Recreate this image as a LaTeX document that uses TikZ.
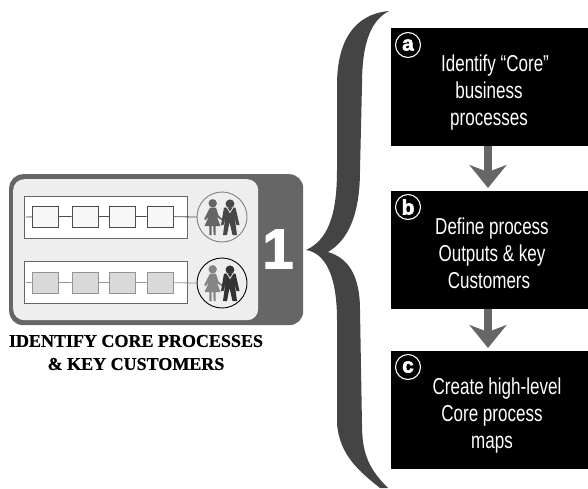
\documentclass[tikz,border=0pt]{standalone}
\usepackage{fontspec}
\setmainfont{Liberation Sans}
\newfontfamily\condfont[FakeStretch=0.74]{Liberation Sans}
\newfontfamily\heavyfont[FakeBold=2.5]{Liberation Sans Bold}
\newfontfamily\headfont[FakeBold=0.6]{Liberation Serif Bold}
\usetikzlibrary{arrows.meta}
\definecolor{panelgray}{HTML}{666666}
\definecolor{panellight}{HTML}{EEEEEE}
\definecolor{bracegray}{HTML}{444444}
\tikzset{
  stepcard/.style={draw=none,fill=black,minimum width=197pt,minimum height=118pt,inner sep=0pt,outer sep=0pt,anchor=north west},
  linetext/.style={text=white,font=\condfont\fontsize{23}{23}\selectfont,inner sep=0pt},
  badge/.style={circle,draw=white,line width=1.1pt,fill=black,text=white,minimum size=25pt,inner sep=0pt,font=\heavyfont\fontsize{21}{21}\selectfont},
  flowarrow/.style={draw=panelgray,line width=8pt,-{Stealth[length=23pt,width=37pt,inset=7pt,fill=panelgray]},shorten >=3pt},
  lanebox/.style={draw=panelgray,line width=.8pt,fill=white,minimum width=163pt,minimum height=42pt,inner sep=0pt,anchor=north west},
  taskbox/.style={line width=.8pt,minimum width=26pt,minimum height=21pt,inner sep=0pt},
  headline/.style={font=\headfont\fontsize{18}{18}\selectfont,inner sep=0pt,text=black},
  pics/couple/.style n args={3}{code={
    \fill[#1] (-9.3,-13.7) circle (4.2);
    \fill[#1] (-12,-9.5) -- (-6,-9.5) -- (-3.5,-1.5) -- (0.5,2) -- (-0.5,3.2) -- (-5,0) -- (-1.5,9) -- (-6.3,9) -- (-6.3,18) -- (-8.4,18) -- (-8.7,9) -- (-10.3,9) -- (-10.5,18) -- (-12.6,18) -- (-12.7,9) -- (-17.5,9) -- (-13,-1) -- (-16.5,3.2) -- (-17.8,2) -- cycle;
    \fill[#2] (8,-13.2) circle (4.4);
    \fill[#2] (2,-9.5) -- (13.5,-9.5) -- (17.5,8) -- (14.5,8) -- (12.5,-1) -- (15,18) -- (10.5,18) -- (7.5,5) -- (5,18) -- (1,18) -- (3.5,-1) -- (1.5,8) -- (-1,8) -- cycle;
    \draw[white,line width=.7pt] (5,-9.5) -- (8,-4.5) -- (11,-9.5);
    \draw[#3,line width=.9pt,fill=none] (0,0) circle (25);
  }}
}
\begin{document}
\begin{tikzpicture}[x=1pt,y=-1pt]
\useasboundingbox (0,0) rectangle (588,488);
% left panel
\node[draw=none,fill=panelgray,rounded corners=14pt,minimum width=294pt,minimum height=151pt,inner sep=0pt,anchor=north west] (panel) at (9,174) {};
\node[draw=none,fill=panellight,rounded corners=11pt,minimum width=245pt,minimum height=141pt,inner sep=0pt,anchor=north west] (inner) at (13,179) {};
\node[lanebox] (laneA) at (24,196) {};
\node[lanebox] (laneB) at (24,261) {};
\coordinate (startA) at (26,217);
\coordinate (startB) at (26,282.5);
\foreach \n/\x in {1/45,2/85,3/122.5,4/160}{
  \node[taskbox,draw=black!70,fill=black!3] (a\n) at (\x,216.5) {};
  \node[taskbox,draw=black!42,fill=black!15] (b\n) at (\x,282.5) {};
}
\pic (cA) at (222,217) {couple={panelgray}{black!72}{black!50}};
\pic (cB) at (222,283) {couple={black!48}{black!80}{black}};
\coordinate (custA) at (197,217);
\coordinate (custB) at (197,283);
\draw[black!70,line width=.8pt] (startA) -- (a1) -- (a2) -- (a3) -- (a4) -- (custA);
\draw[black!42,line width=.8pt] (startB) -- (b1) -- (b2) -- (b3) -- (b4) -- (custB);
\node[text=white,font=\heavyfont\fontsize{56}{56}\selectfont,inner sep=0pt] (one) at (278,249) {1};
\node[headline] (h1) at (136,341) {IDENTIFY CORE PROCESSES};
\node[headline] (h2) at (136,364) {\& KEY CUSTOMERS};
% brace
\fill[bracegray] (389,11) .. controls (355,14) and (337,40) .. (337,85)
  -- (337,170) .. controls (337,215) and (328,240) .. (306,250)
  .. controls (325,253) and (337,275) .. (337,320)
  -- (337,423) .. controls (339,455) and (360,472) .. (380,488)
  -- (388,488) .. controls (370,470) and (362,455) .. (362,425)
  -- (360,310) .. controls (360,275) and (348,258) .. (328,252)
  .. controls (348,240) and (360,215) .. (360,170)
  -- (362,85) .. controls (362,40) and (372,20) .. (389,11) -- cycle;
% cards
\node[stepcard] (A) at (391,28) {};
\node[stepcard] (B) at (391,191) {};
\node[stepcard] (C) at (391,351) {};
\draw[flowarrow] ([xshift=-1.5pt]A.south) -- ([xshift=-1.5pt]B.north);
\draw[flowarrow] ([xshift=-1.5pt]B.south) -- ([xshift=-1.5pt]C.north);
\node[badge] (ba) at (408,45) {a};
\node[badge] (bb) at (408,207) {b};
\node[badge] (bc) at (408,367) {c};
\node[linetext,anchor=base] (a1t) at (495,71) {Identify “Core”};
\node[linetext,anchor=base] (a2t) at (489,98) {business};
\node[linetext,anchor=base] (a3t) at (489,125) {processes};
\node[linetext,anchor=base] (b1t) at (492,234) {Define process};
\node[linetext,anchor=base] (b2t) at (492,261) {Outputs \& key};
\node[linetext,anchor=base] (b3t) at (489,288) {Customers};
\node[linetext,anchor=base] (c1t) at (497,394) {Create high-level};
\node[linetext,anchor=base] (c2t) at (492,421) {Core process};
\node[linetext,anchor=base] (c3t) at (492,448) {maps};
\end{tikzpicture}
\end{document}
